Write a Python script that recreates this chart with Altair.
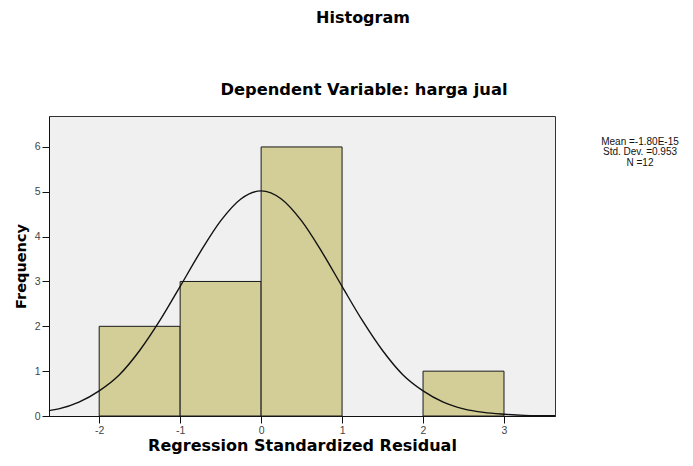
import altair as alt
import pandas as pd

# Histogram bins (Regression Standardized Residual) and frequencies
bin_start = [-2, -1, 0, 1, 2]
bin_end = [-1, 0, 1, 2, 3]
counts = [2, 3, 6, 0, 1]

# Normal curve
curve_x = [-2.62, -2.5, -2.25, -2.0, -1.75, -1.5, -1.25, -1.0, -0.75, -0.5, -0.25, 0.0,
           0.25, 0.5, 0.75, 1.0, 1.25, 1.5, 1.75, 2.0, 2.25, 2.5, 2.75, 3.0, 3.25, 3.5, 3.63]
curve_y = [0.12, 0.16, 0.31, 0.56, 0.92, 1.46, 2.13, 2.89, 3.66, 4.35, 4.84, 5.02,
           4.84, 4.35, 3.66, 2.89, 2.13, 1.46, 0.92, 0.56, 0.31, 0.16, 0.08, 0.04, 0.015, 0.007, 0.004]

x_ticks = [-2, -1, 0, 1, 2, 3]
y_ticks = [0, 1, 2, 3, 4, 5, 6]

title_main = "Histogram"
title_sub = "Dependent Variable: harga jual"
stats_lines = ["Mean =-1.80E-15", "Std. Dev. =0.953", "N =12"]

FONT = "Liberation Sans"
TFONT = "DejaVu Sans"

bars_df = pd.DataFrame({"start": bin_start, "end": bin_end, "count": counts})
curve_df = pd.DataFrame({"x": curve_x, "y": curve_y})

xscale = alt.Scale(domain=[-2.62, 3.63], nice=False, zero=False)
yscale = alt.Scale(domain=[0, 6.69], nice=False)

bars = alt.Chart(bars_df).transform_filter("datum.count > 0").mark_rect(
    fill="#D3CE97", stroke="#1a1a1a", strokeWidth=1
).encode(
    x=alt.X("start:Q", scale=xscale,
            axis=alt.Axis(values=x_ticks, title="Regression Standardized Residual",
                          labelExpr="'' + datum.value")),
    x2="end:Q",
    y=alt.Y("count:Q", scale=yscale,
            axis=alt.Axis(values=y_ticks, title="Frequency", labelExpr="'' + datum.value")),
    y2=alt.datum(0),
)

curve = alt.Chart(curve_df).mark_line(color="#111111", strokeWidth=1.4, interpolate="monotone").encode(
    x=alt.X("x:Q", scale=xscale),
    y=alt.Y("y:Q", scale=yscale),
)

t1 = alt.Chart(pd.DataFrame({"t": [title_main]})).mark_text(
    font=TFONT, fontSize=16, fontWeight="bold", align="center", baseline="alphabetic", color="#000"
).encode(text="t:N", x=alt.value(314), y=alt.value(-93))

t2 = alt.Chart(pd.DataFrame({"t": [title_sub]})).mark_text(
    font=TFONT, fontSize=16.3, fontWeight="bold", align="center", baseline="alphabetic", color="#000"
).encode(text="t:N", x=alt.value(315), y=alt.value(-21))

stats_layers = []
for i, line in enumerate(stats_lines):
    stats_layers.append(
        alt.Chart(pd.DataFrame({"t": [line]})).mark_text(
            font=FONT, fontSize=10, align="center", baseline="alphabetic", color="#111"
        ).encode(text="t:N", x=alt.value(591), y=alt.value(28.5 + 10.5 * i))
    )

chart = alt.layer(bars, curve, t1, t2, *stats_layers).properties(
    width=506, height=300,
    autosize=alt.AutoSizeParams(type="none"),
    padding={"left": 41, "top": 108, "right": 130, "bottom": 42},
).configure_view(
    fill="#F0F0F0", stroke="#333333", strokeWidth=1
).configure_axis(
    grid=False,
    domainColor="#111", domainWidth=1,
    tickColor="#111", tickSize=7,
    labelFont=FONT, labelFontSize=10.5, labelColor="#444",
    titleFont=TFONT, titleFontWeight="bold", titleColor="#000",
).configure_axisX(
    labelPadding=2, titleFontSize=16, titlePadding=2,
).configure_axisY(
    labelPadding=2, titleFontSize=14.5, titlePadding=6,
)

chart.save("out.html", embed_options={"renderer": "svg", "actions": False})
